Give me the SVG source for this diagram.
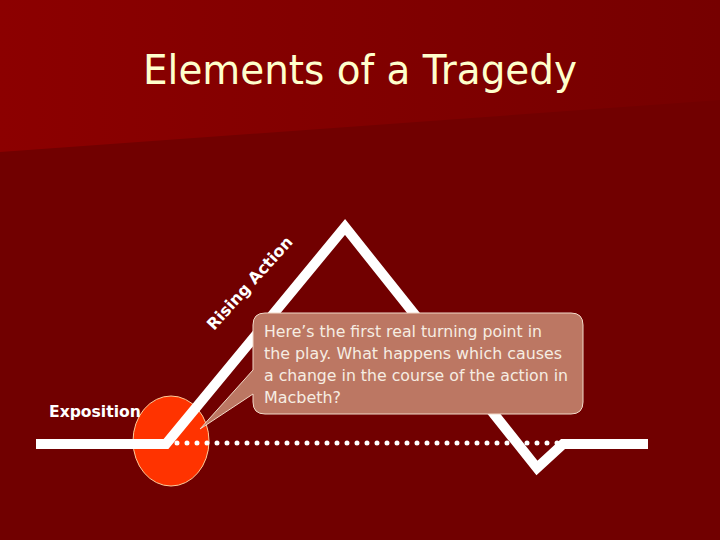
<svg xmlns="http://www.w3.org/2000/svg" width="720" height="540" viewBox="0 0 720 540">
  <defs>
    <linearGradient id="band" x1="0" y1="0" x2="1" y2="0">
      <stop offset="0" stop-color="#8c0000"/>
      <stop offset="1" stop-color="#760000"/>
    </linearGradient>
    <style>
      .line { fill: none; stroke: #ffffff; stroke-width: 10; stroke-linejoin: miter; stroke-miterlimit: 10; }
      .dots { fill: none; stroke: #ffffff; stroke-width: 5; stroke-linecap: round; stroke-dasharray: 0 10; }
      .label { font-family: "DejaVu Sans", "Liberation Sans", sans-serif; font-weight: bold; fill: #ffffff; }
      .callout-text { font-family: "DejaVu Sans", "Liberation Sans", sans-serif; font-size: 16px; fill: #f6ede2; }
      .title { font-family: "DejaVu Sans", "Liberation Sans", sans-serif; font-size: 41px; fill: #ffffcc; }
    </style>
  </defs>

  <g id="background">
    <rect x="0" y="0" width="720" height="540" fill="#710000"/>
    <polygon points="0,0 720,0 720,100 0,152" fill="url(#band)"/>
  </g>

  <g id="title">
    <text class="title" x="143" y="84" textLength="434" lengthAdjust="spacingAndGlyphs">Elements of a Tragedy</text>
  </g>

  <g id="climax-marker">
    <ellipse cx="171" cy="441" rx="38" ry="45" fill="#ff3300" stroke="#ffcc99" stroke-width="1"/>
  </g>

  <g id="connectors">
    <polyline class="line" points="36,444 166,444 345,227 537,468 563,444 648,444"/>
    <line class="dots" x1="177" y1="443" x2="558" y2="443"/>
  </g>

  <g id="exposition">
    <text class="label" x="49" y="417" font-size="15.6">Exposition</text>
  </g>

  <g id="rising-action">
    <text class="label" x="0" y="0" font-size="16" transform="translate(214,331) rotate(-48)" textLength="119" lengthAdjust="spacing">Rising Action</text>
  </g>

  <g id="callout">
    <path d="M 265,313 H 571 Q 583,313 583,325 V 402 Q 583,414 571,414 H 265 Q 253,414 253,402 V 394 L 200,429 L 253,370 V 325 Q 253,313 265,313 Z" fill="#bc7763" stroke="#f2d9c8" stroke-width="1"/>
    <text class="callout-text" x="264" y="337" textLength="278" lengthAdjust="spacingAndGlyphs">Here’s the first real turning point in</text>
    <text class="callout-text" x="264" y="359" textLength="298" lengthAdjust="spacingAndGlyphs">the play. What happens which causes</text>
    <text class="callout-text" x="264" y="381" textLength="304" lengthAdjust="spacingAndGlyphs">a change in the course of the action in</text>
    <text class="callout-text" x="264" y="403" textLength="77" lengthAdjust="spacingAndGlyphs">Macbeth?</text>
  </g>
</svg>
